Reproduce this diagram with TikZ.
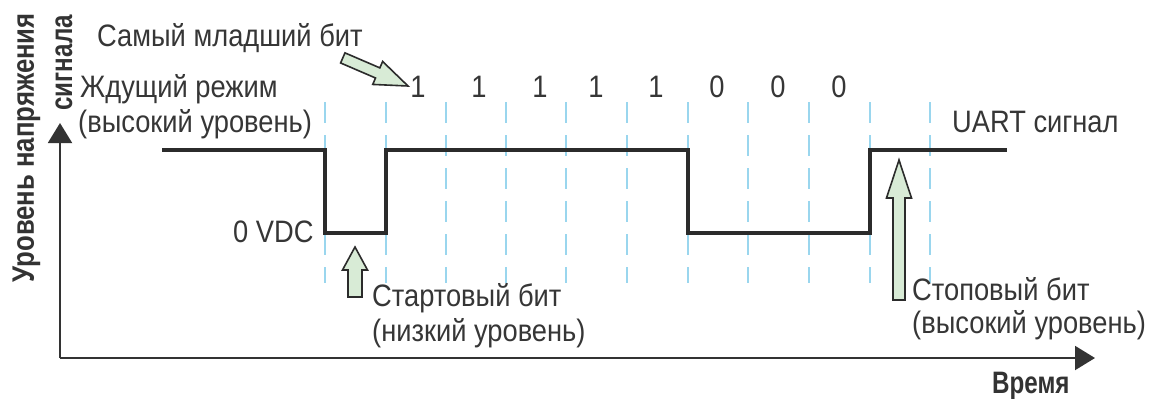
\documentclass[tikz,border=0pt]{standalone}
\usepackage{fontspec}
\setmainfont{Liberation Sans}[FakeStretch=0.88]
\newfontfamily\boldlab{Liberation Sans Bold}[FakeStretch=0.78]
\newfontfamily\boldlabwide{Liberation Sans Bold}[FakeStretch=0.83]
\usetikzlibrary{arrows.meta}
\definecolor{txtgray}{HTML}{363636}
\definecolor{sigcol}{HTML}{2B2B2B}
\definecolor{dashblue}{HTML}{9AD6EE}
\definecolor{arrgreen}{HTML}{D8EBD6}
\definecolor{axiscol}{HTML}{333333}
\tikzset{
  lbl/.style={font=\fontsize{31}{35}\selectfont, text=txtgray, inner sep=0pt},
  blbl/.style={font=\boldlab\fontsize{31}{35}\selectfont, text=axiscol, inner sep=0pt},
  bitdash/.style={draw=dashblue, line width=1.6pt, dash pattern=on 21pt off 12pt},
  signal/.style={draw=sigcol, line width=4.5pt, line join=miter},
  axis/.style={draw=axiscol, line width=2pt, -{Triangle[length=20pt,width=24pt]}},
  blockarr/.style={fill=arrgreen, draw=sigcol, line width=1.6pt, line join=miter}
}
% block arrow: tip, angle, total length, head length, head half width, body half width
\newcommand\blockarrow[6]{%
  \begin{scope}[shift={#1}, rotate=#2, x=1pt, y=1pt]
    \path[blockarr] (0,0) -- (-#4,#5) -- (-#4,#6) -- (-#3,#6) -- (-#3,-#6) -- (-#4,-#6) -- (-#4,-#5) -- cycle;
  \end{scope}}
\begin{document}
\begin{tikzpicture}[x=1pt, y=-1pt]
\useasboundingbox (0,0) rectangle (1160,399);
\fill[white] (0,0) rectangle (1160,399);
% dashed bit boundaries
\foreach \xx in {325,386,446,506,566,627,688,748,809,870,930}
  \draw[bitdash] (\xx,102) -- (\xx,283);
% axes
\coordinate (orig) at (60,358);
\coordinate (ytip) at (60,123);
\coordinate (xtip) at (1095,358);
\draw[axis] (orig) -- (ytip);
\draw[axis] (orig) -- (xtip);
% signal
\coordinate (s0) at (162,150);
\coordinate (s1) at (325,150);
\coordinate (s2) at (325,233);
\coordinate (s3) at (386,233);
\coordinate (s4) at (386,150);
\coordinate (s5) at (688,150);
\coordinate (s6) at (688,233);
\coordinate (s7) at (870,233);
\coordinate (s8) at (870,150);
\coordinate (s9) at (1007,150);
\draw[signal] (s0) -- (s1) -- (s2) -- (s3) -- (s4) -- (s5) -- (s6) -- (s7) -- (s8) -- (s9);
% texts
\node[lbl, anchor=base west] (lsb) at (97,46) {Самый младший бит};
\node[lbl, anchor=base west] (idle1) at (80,97) {Ждущий режим};
\node[lbl, anchor=base west] (idle2) at (78,132) {(высокий уровень)};
\node[lbl, anchor=base west] (uart) at (952,132) {UART сигнал};
\node[lbl, anchor=base west] (zero) at (233,242) {0 VDC};
\node[lbl, anchor=base west] (start1) at (372,306) {Стартовый бит};
\node[lbl, anchor=base west] (start2) at (372,341) {(низкий уровень)};
\node[lbl, anchor=base west] (stop1) at (912,300) {Стоповый бит};
\node[lbl, anchor=base west] (stop2) at (912,333) {(высокий уровень)};
\foreach \xx/\bb [count=\i] in {418/1,479/1,540/1,596/1,656/1,717/0,778/0,839/0}
  \node[lbl, anchor=base] (bit\i) at (\xx,97) {\bb};
\node[blbl, anchor=base west] (time) at (992,393) {Время};
\node[blbl, font=\boldlabwide\fontsize{31}{35}\selectfont, anchor=base east, rotate=90] (yl1) at (34,13) {Уровень напряжения};
\node[blbl, anchor=base east, rotate=90] (yl2) at (72,15) {сигнала};
% block arrows
\blockarrow{(408,86)}{-23.3}{71}{33}{12.5}{5.5}
\blockarrow{(355,247)}{90}{50}{23}{12.5}{7}
\blockarrow{(899,160)}{90}{140}{38}{12.5}{6}
\end{tikzpicture}
\end{document}
